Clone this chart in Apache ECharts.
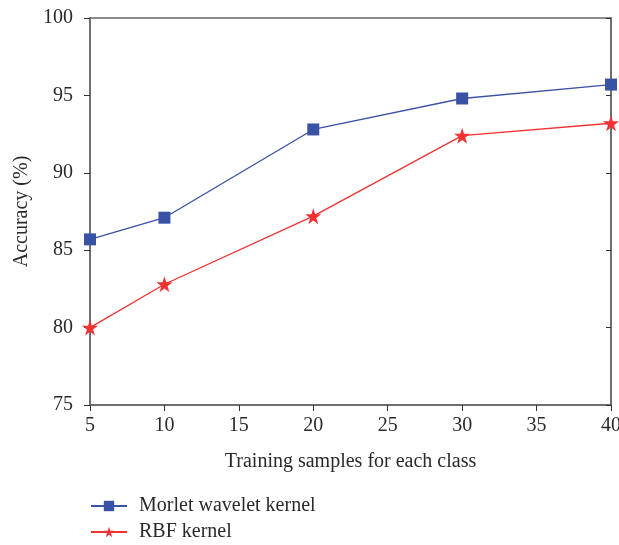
<!DOCTYPE html>
<html>
<head>
<meta charset="utf-8">
<script src="https://cdn.jsdelivr.net/npm/echarts@6/dist/echarts.min.js"></script>
<style>
  html, body { margin: 0; padding: 0; background: #fff; }
  #chart { width: 619px; height: 545px; }
</style>
</head>
<body>
<div id="chart"></div>
<script>
// Accuracy vs. number of training samples per class
const samples = [5, 10, 20, 30, 40];
const morletAcc = [85.7, 87.1, 92.8, 94.8, 95.7];
const rbfAcc = [80.0, 82.8, 87.2, 92.4, 93.2];
const seriesNames = ['Morlet wavelet kernel', 'RBF kernel'];

const font = '"Liberation Serif", "DejaVu Serif", serif';
const axisColor = '#666';
const textColor = '#2a2a2a';
const fs = 20;
const starPath = 'path://M50,0 L61.8,36.2 L100,36.2 L69.1,58.8 L80.9,95.1 L50,72.7 L19.1,95.1 L30.9,58.8 L0,36.2 L38.2,36.2 Z';

const chart = echarts.init(document.getElementById('chart'));
chart.setOption({
  animation: false,
  grid: {
    left: 90, right: 8, top: 18, bottom: 140,
    outerBoundsMode: 'none',
    containLabel: false,
    show: true, borderColor: axisColor, borderWidth: 1.5
  },
  legend: {
    orient: 'vertical',
    left: 90, top: 496,
    padding: 0,
    itemWidth: 36, itemHeight: 13, itemGap: 6,
    textStyle: { fontFamily: font, fontSize: fs, color: textColor, padding: [0, 0, 0, 7] },
    data: seriesNames
  },
  xAxis: {
    type: 'value', min: 5, max: 40, interval: 5,
    name: 'Training samples for each class',
    nameLocation: 'middle', nameGap: 47,
    nameTextStyle: { fontFamily: font, fontSize: fs, color: textColor },
    axisLine: { lineStyle: { color: axisColor, width: 1.5 } },
    axisTick: { length: 6, lineStyle: { color: '#333' } },
    axisLabel: { fontFamily: font, fontSize: fs, color: textColor, margin: 11 },
    splitLine: { show: false }
  },
  yAxis: [{
    type: 'value', min: 75, max: 100, interval: 5,
    name: 'Accuracy (%)',
    nameLocation: 'middle', nameGap: 58,
    nameTextStyle: { fontFamily: font, fontSize: fs, color: textColor },
    axisLine: { show: true, lineStyle: { color: axisColor, width: 1.5 } },
    axisTick: { show: true, length: 6, lineStyle: { color: '#333' } },
    axisLabel: { fontFamily: font, fontSize: fs, color: textColor, margin: 17 },
    splitLine: { show: false }
  }, {
    type: 'value', min: 75, max: 100, interval: 5, position: 'right',
    axisLine: { show: true, lineStyle: { color: axisColor, width: 1.5 } },
    axisTick: { show: true, inside: true, length: 5, lineStyle: { color: '#333' } },
    axisLabel: { show: false },
    splitLine: { show: false }
  }],
  series: [{
    name: seriesNames[0],
    type: 'line',
    data: samples.map((x, i) => [x, morletAcc[i]]),
    symbol: 'rect', symbolSize: 12,
    itemStyle: { color: '#3a52a6' },
    lineStyle: { color: '#3a52a6', width: 1.3 }
  }, {
    name: seriesNames[1],
    type: 'line',
    data: samples.map((x, i) => [x, rbfAcc[i]]),
    symbol: starPath,
    symbolSize: 16,
    itemStyle: { color: '#f03232' },
    lineStyle: { color: '#f03232', width: 1.3 }
  }]
});
</script>
</body>
</html>
